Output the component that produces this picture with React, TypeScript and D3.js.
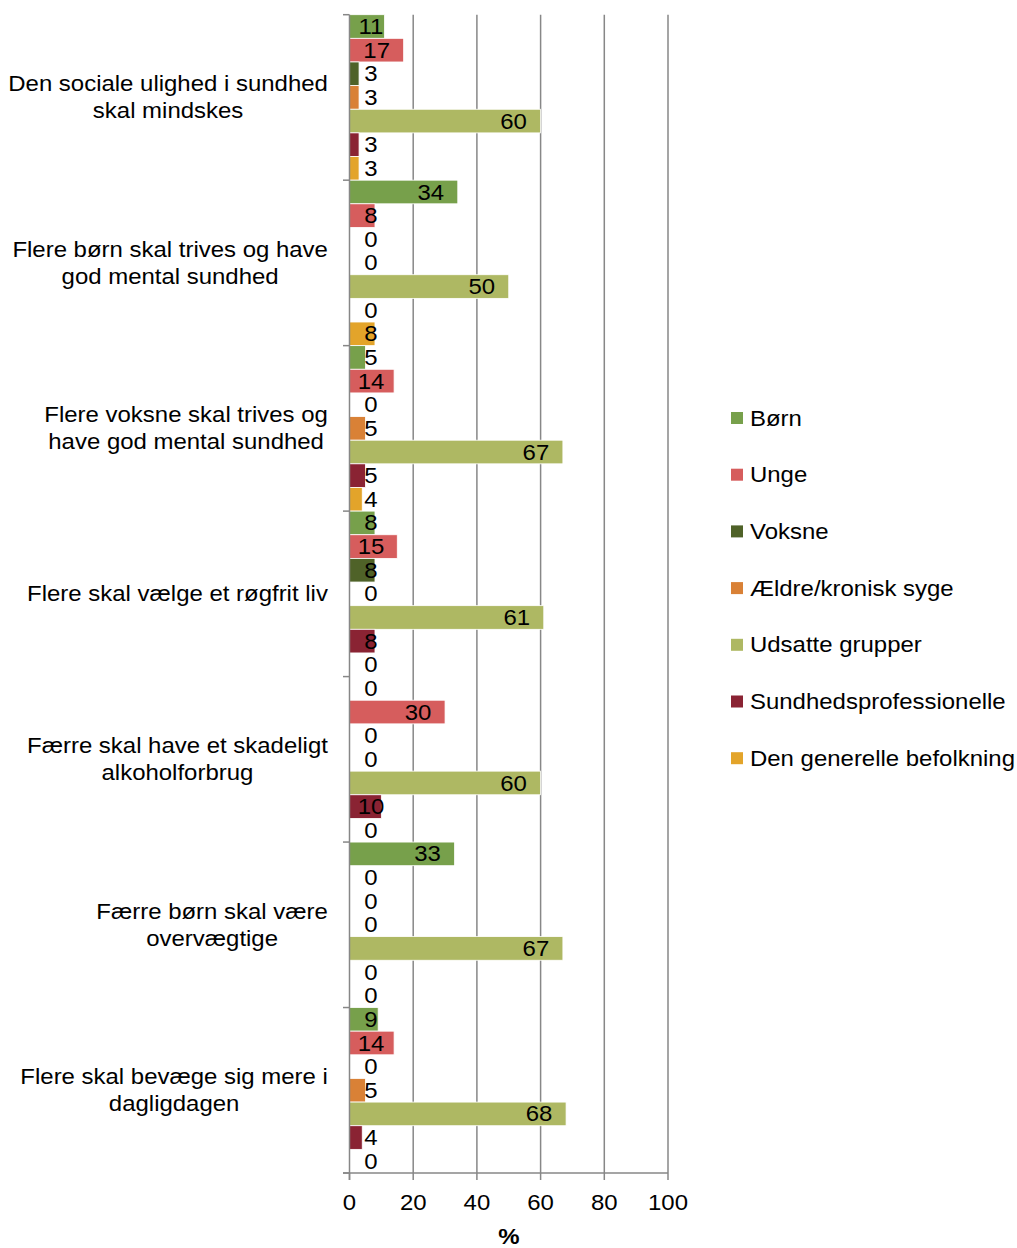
import React, { useMemo } from "react";
import * as d3 from "d3";

const categories = [
  ["Den sociale ulighed i sundhed", "skal mindskes"],
  ["Flere børn skal trives og have", "god mental sundhed"],
  ["Flere voksne skal trives og", "have god mental sundhed"],
  ["Flere skal vælge et røgfrit liv"],
  ["Færre skal have et skadeligt", "alkoholforbrug"],
  ["Færre børn skal være", "overvægtige"],
  ["Flere skal bevæge sig mere i", "dagligdagen"],
];

const seriesNames = [
  "Børn",
  "Unge",
  "Voksne",
  "Ældre/kronisk syge",
  "Udsatte grupper",
  "Sundhedsprofessionelle",
  "Den generelle befolkning",
];

const seriesColors = ["#77A04B", "#D65D5D", "#4F6228", "#D98136", "#AEB863", "#8A2333", "#E3A42A"];

// values per series, one entry per category
const born = [11, 34, 5, 8, 0, 33, 9];
const unge = [17, 8, 14, 15, 30, 0, 14];
const voksne = [3, 0, 0, 8, 0, 0, 0];
const aeldre = [3, 0, 5, 0, 0, 0, 5];
const udsatte = [60, 50, 67, 61, 60, 67, 68];
const sundhedsprof = [3, 0, 5, 8, 10, 0, 4];
const generelle = [3, 8, 4, 0, 0, 0, 0];
const seriesValues = [born, unge, voksne, aeldre, udsatte, sundhedsprof, generelle];

const xTicks = [0, 20, 40, 60, 80, 100];
const axisTitle = "%";

const FS = 21.5;
const SX = 1.115;
const FONT = "'Liberation Sans', Arial, sans-serif";

function measure(text: string): number {
  const c = document.createElement("canvas").getContext("2d")!;
  c.font = `${FS}px 'Liberation Sans', Arial, sans-serif`;
  return c.measureText(text).width * SX;
}

function T({ x, y, anchor = "start", children, weight = "normal" }: any) {
  return (
    <g transform={`translate(${x},${y}) scale(${SX},1)`}>
      <text
        x={0}
        y={0}
        textAnchor={anchor}
        dominantBaseline="central"
        fontFamily={FONT}
        fontSize={FS}
        fontWeight={weight}
        fill="#000"
      >
        {children}
      </text>
    </g>
  );
}

export default function App() {
  const x = d3.scaleLinear().domain([0, 100]).range([349.5, 668]);
  const catIdx = categories.map((_, i) => String(i));
  const y = d3.scaleBand().domain(catIdx).range([14.7, 1173]).padding(0);
  const yi = d3
    .scaleBand()
    .domain(seriesNames)
    .range([0, y.bandwidth()])
    .padding(0);

  const catWidths = useMemo(
    () => categories.map((lines) => Math.max(...lines.map((l) => measure(l)))),
    []
  );

  const top = 14.7;
  const bottom = 1173;
  const gridColor = "#878787";

  return (
    <svg
      width={1017}
      height={1248}
      style={{ position: "absolute", left: 0, top: 0, background: "#fff" }}
    >
      <rect x={0} y={0} width={1017} height={1248} fill="#fff" />
      {/* gridlines */}
      {xTicks.slice(1).map((t) => (
        <line key={t} x1={x(t)} x2={x(t)} y1={top} y2={bottom} stroke={gridColor} strokeWidth={1.5} />
      ))}
      {/* bars */}
      {categories.map((_, ci) =>
        seriesNames.map((s, si) => {
          const v = seriesValues[si][ci];
          const y0 = (y(String(ci)) as number) + (yi(s) as number);
          const w = x(v) - x(0);
          return v > 0 ? (
            <rect
              key={`${ci}-${si}`}
              x={x(0)}
              y={y0}
              width={w}
              height={yi.bandwidth()}
              fill={seriesColors[si]}
              stroke="#fff"
              strokeWidth={0.8}
            />
          ) : null;
        })
      )}
      {/* axes */}
      <line x1={349.5} x2={349.5} y1={top} y2={bottom + 7} stroke={gridColor} strokeWidth={1.5} />
      <line x1={343} x2={668} y1={bottom} y2={bottom} stroke={gridColor} strokeWidth={1.5} />
      {d3.range(categories.length + 1).map((i) => {
        const yy = top + i * y.step();
        return <line key={i} x1={343} x2={349.5} y1={yy} y2={yy} stroke={gridColor} strokeWidth={1.5} />;
      })}
      {xTicks.map((t) => (
        <line key={t} x1={x(t)} x2={x(t)} y1={bottom} y2={bottom + 7} stroke={gridColor} strokeWidth={1.5} />
      ))}
      {/* x tick labels */}
      {xTicks.map((t) => (
        <T key={t} x={x(t)} y={1202} anchor="middle">
          {t}
        </T>
      ))}
      <T x={509} y={1236} anchor="middle" weight="bold">
        {axisTitle}
      </T>
      {/* data labels */}
      {categories.map((_, ci) =>
        seriesNames.map((s, si) => {
          const v = seriesValues[si][ci];
          const yc = (y(String(ci)) as number) + (yi(s) as number) + yi.bandwidth() / 2;
          const cx = Math.max(x(v) - 27, 371);
          return (
            <T key={`l${ci}-${si}`} x={cx} y={yc} anchor="middle">
              {v}
            </T>
          );
        })
      )}
      {/* category labels */}
      {categories.map((lines, ci) => {
        const yc = (y(String(ci)) as number) + y.bandwidth() / 2;
        const cx = 328 - catWidths[ci] / 2;
        const lh = 27;
        return lines.map((l, li) => (
          <T key={`c${ci}-${li}`} x={cx} y={yc + (li - (lines.length - 1) / 2) * lh} anchor="middle">
            {l}
          </T>
        ));
      })}
      {/* legend */}
      {seriesNames.map((s, si) => {
        const yc = 418 + si * 56.7;
        return (
          <g key={s}>
            <rect x={731} y={yc - 6} width={12} height={12} fill={seriesColors[si]} />
            <T x={750} y={yc}>
              {s}
            </T>
          </g>
        );
      })}
    </svg>
  );
}
